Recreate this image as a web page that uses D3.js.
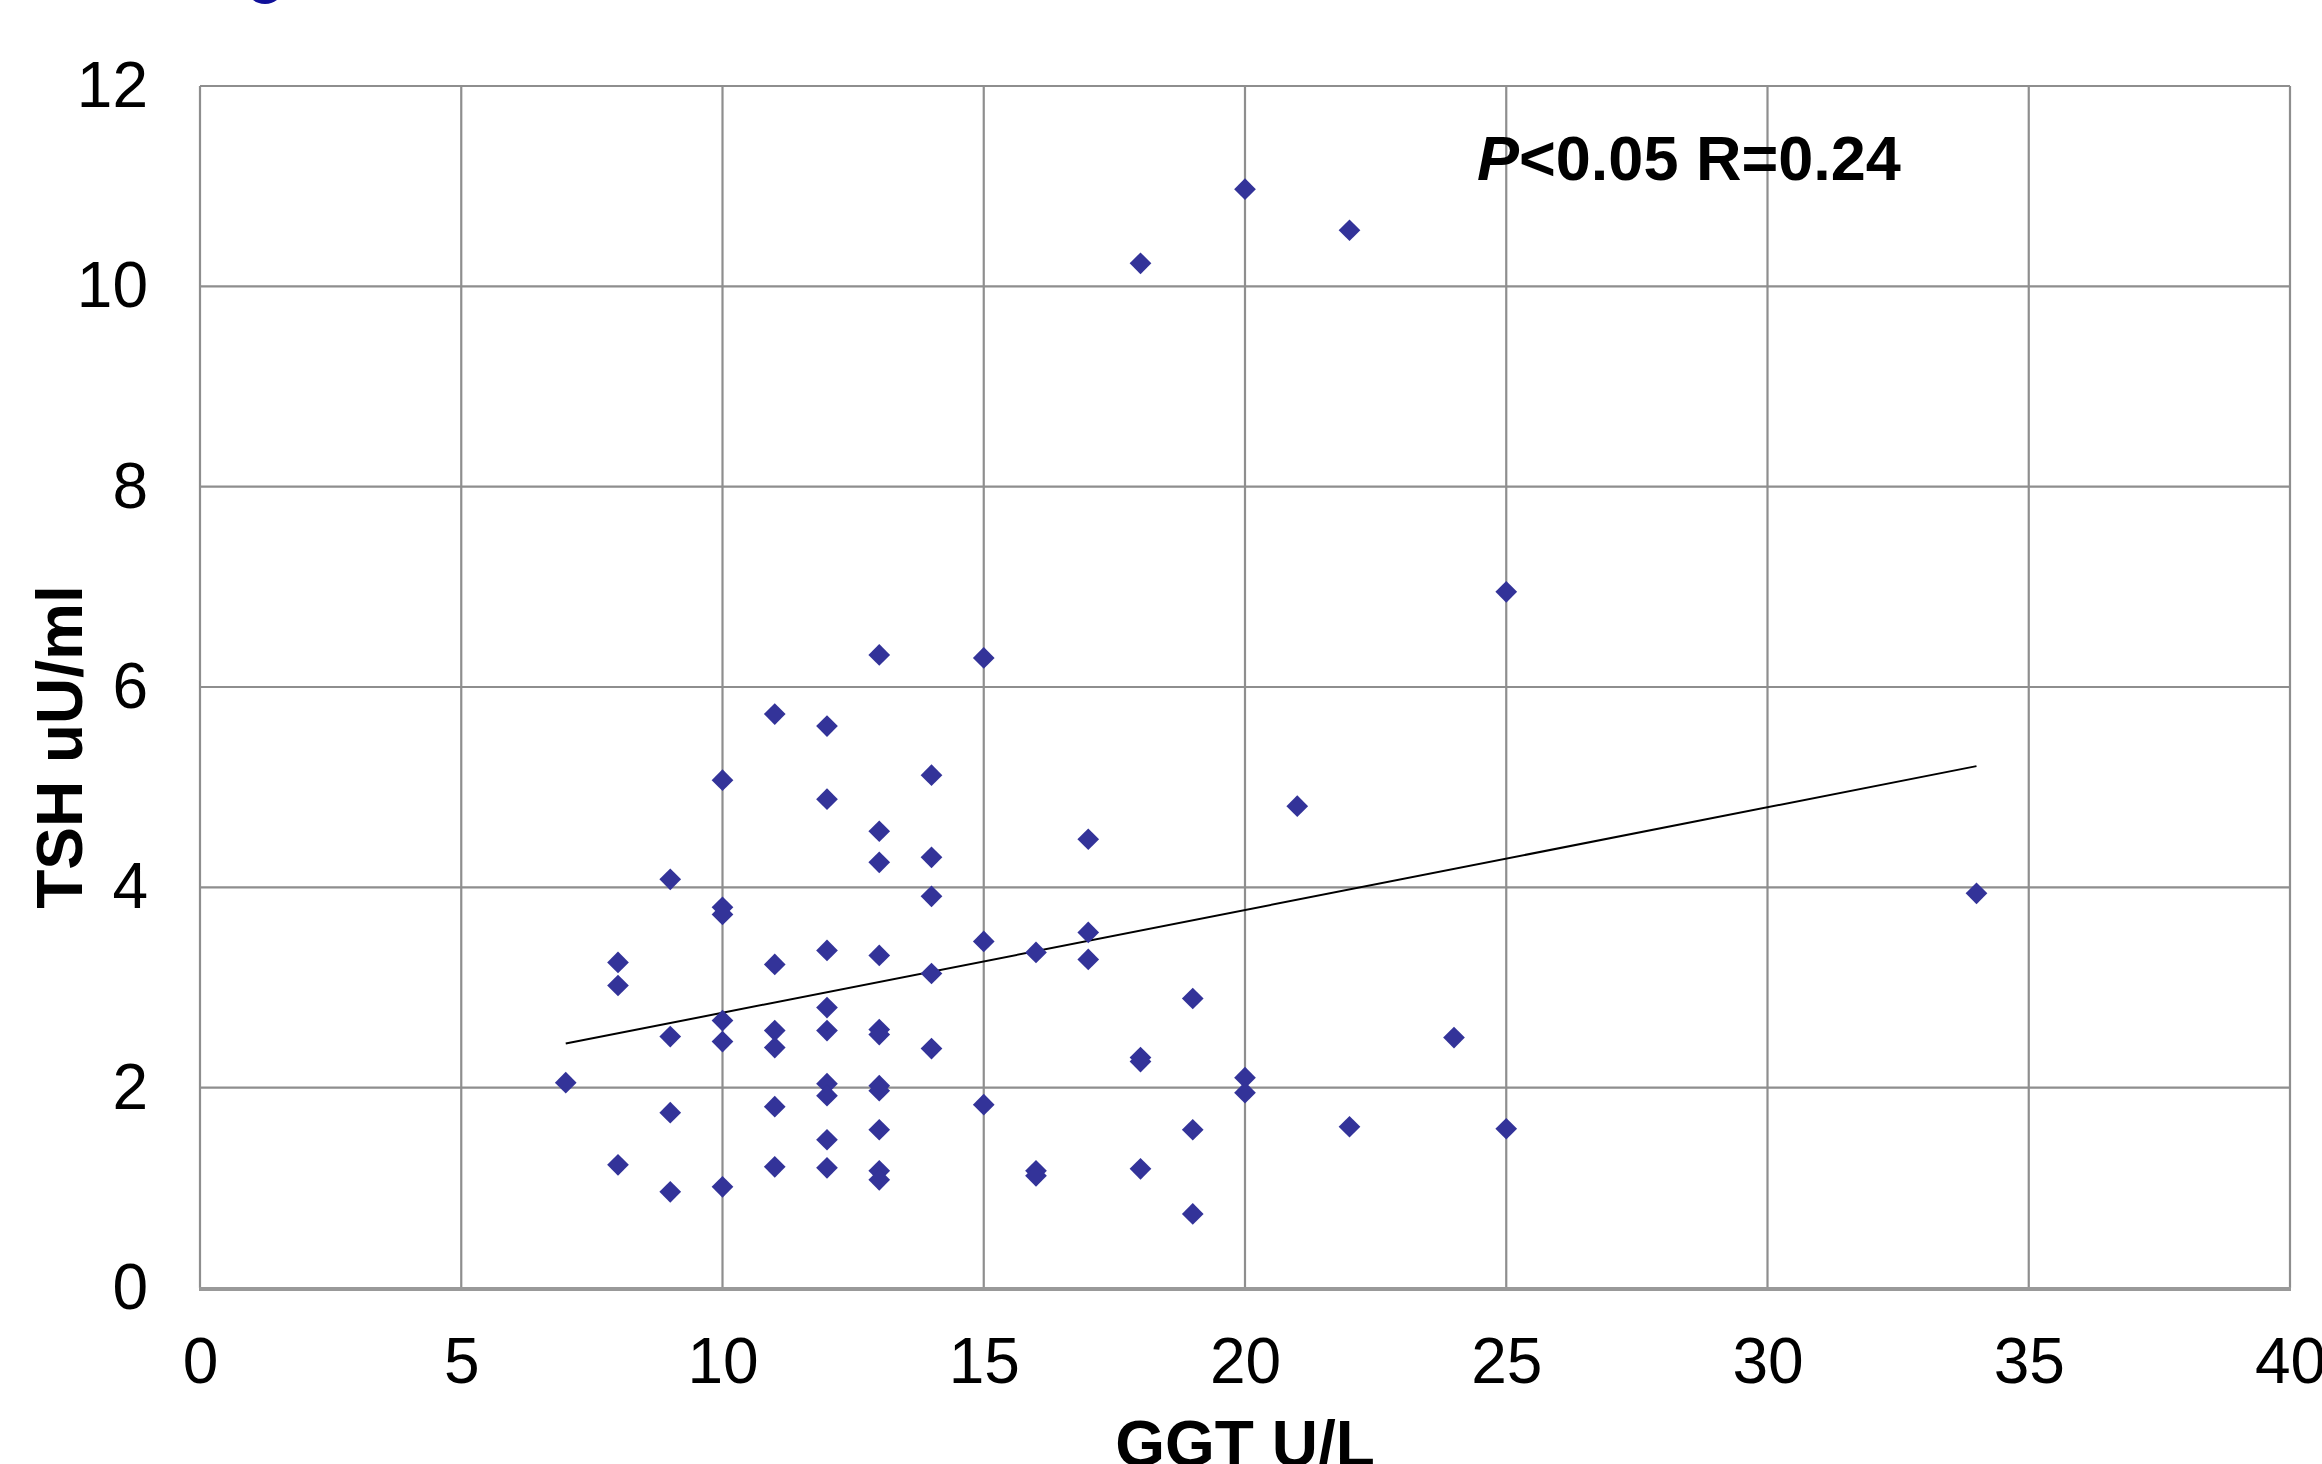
<!DOCTYPE html>
<html lang="en">
<head>
  <meta charset="UTF-8">
  <title>TSH vs GGT</title>
  <script src="https://d3js.org/d3.v7.min.js"></script>
  <style>
    body { margin: 0; background: #fff; }
    text { font-family: "Liberation Sans", Arial, sans-serif; fill: #000; }
  </style>
</head>
<body>
<div class="main"></div>
<script>
  let width = 2322;
  let height = 1464;

  // GGT (x) and TSH (y) per patient
  let ggt = [7,
    8, 8, 8,
    9, 9, 9, 9,
    10, 10, 10, 10, 10, 10,
    11, 11, 11, 11, 11, 11,
    12, 12, 12, 12, 12, 12, 12, 12, 12,
    13, 13, 13, 13, 13, 13, 13, 13, 13, 13, 13,
    14, 14, 14, 14, 14,
    15, 15, 15,
    16, 16, 16,
    17, 17, 17,
    18, 18, 18, 18,
    19, 19, 19,
    20, 20, 20,
    21,
    22, 22,
    24,
    25, 25,
    34];
  let tsh = [2.05,
    3.25, 3.02, 1.23,
    4.08, 2.51, 1.75, 0.96,
    5.07, 3.80, 3.73, 2.67, 2.46, 1.01,
    5.73, 3.23, 2.57, 2.40, 1.81, 1.21,
    5.61, 4.88, 3.37, 2.80, 2.57, 2.04, 1.92, 1.48, 1.20,
    6.32, 4.56, 4.25, 3.32, 2.58, 2.53, 2.02, 1.97, 1.58, 1.17, 1.08,
    5.12, 4.30, 3.91, 3.14, 2.39,
    6.29, 3.46, 1.83,
    3.35, 1.17, 1.12,
    4.48, 3.55, 3.28,
    10.23, 2.30, 2.26, 1.19,
    2.89, 1.58, 0.74,
    10.97, 2.10, 1.95,
    4.81,
    10.56, 1.61,
    2.50,
    6.95, 1.59,
    3.94];

  // trend line ends
  let trendX = [7, 34];
  let trendY = [2.44, 5.21];

  let xTicks = [0, 5, 10, 15, 20, 25, 30, 35, 40];
  let yTicks = [0, 2, 4, 6, 8, 10, 12];

  let points = ggt.map((g, i) => ({ x: g, y: tsh[i] }));
  let trend = trendX.map((t, i) => ({ x: t, y: trendY[i] }));

  let xScale = d3.scaleLinear().domain([0, 40]).range([200, 2290]);
  let yScale = d3.scaleLinear().domain([0, 12]).range([1288, 86]);

  let svg = d3.select(".main")
          .append("svg")
          .attr("width", width)
          .attr("height", height)
          .style("display", "block");

  // cut-off blob at the very top
  svg.append("ellipse")
          .attr("cx", 265).attr("cy", -12)
          .attr("rx", 18).attr("ry", 16)
          .attr("fill", "#10109a");

  // grid
  let grid = svg.append("g");
  grid.selectAll("line.v")
          .data(xTicks)
          .join("line")
          .attr("class", "v")
          .attr("x1", d => xScale(d)).attr("x2", d => xScale(d))
          .attr("y1", yScale(12)).attr("y2", yScale(0))
          .attr("stroke", "#8e8e8e")
          .attr("stroke-width", 2.2);
  grid.selectAll("line.h")
          .data(yTicks)
          .join("line")
          .attr("class", "h")
          .attr("x1", xScale(0)).attr("x2", xScale(40))
          .attr("y1", d => yScale(d)).attr("y2", d => yScale(d))
          .attr("stroke", "#8e8e8e")
          .attr("stroke-width", 2.2);
  grid.append("line")
          .attr("x1", xScale(0) - 1).attr("x2", xScale(40) + 1)
          .attr("y1", yScale(0) + 1).attr("y2", yScale(0) + 1)
          .attr("stroke", "#999")
          .attr("stroke-width", 4);

  // axes (labels only)
  let xAxis = d3.axisBottom(xScale)
          .tickValues(xTicks)
          .tickSize(0)
          .tickPadding(50)
          .tickFormat(d3.format("d"));
  let yAxis = d3.axisLeft(yScale)
          .tickValues(yTicks)
          .tickSize(0)
          .tickPadding(52)
          .tickFormat(d3.format("d"));

  svg.append("g")
          .attr("transform", `translate(0,${yScale(0)})`)
          .call(xAxis)
          .call(g => g.select(".domain").remove())
          .selectAll("text")
          .style("font-size", "64px")
          .style("font-family", "'Liberation Sans', Arial, sans-serif")
          .attr("fill", "#000");

  svg.append("g")
          .attr("transform", `translate(${xScale(0)},0)`)
          .call(yAxis)
          .call(g => g.select(".domain").remove())
          .selectAll("text")
          .style("font-size", "64px")
          .style("font-family", "'Liberation Sans', Arial, sans-serif")
          .attr("fill", "#000");

  // trend line
  let line = d3.line().x(d => xScale(d.x)).y(d => yScale(d.y));
  svg.append("path")
          .datum(trend)
          .attr("d", line)
          .attr("fill", "none")
          .attr("stroke", "#000")
          .attr("stroke-width", 2);

  // points
  let diamond = d3.symbol().type(d3.symbolDiamond2).size(300);
  svg.append("g")
          .selectAll("path")
          .data(points)
          .join("path")
          .attr("d", diamond)
          .attr("transform", d => `translate(${xScale(d.x)},${yScale(d.y)})`)
          .attr("fill", "#333399");

  // annotation
  let note = svg.append("text")
          .attr("x", 1477)
          .attr("y", 180)
          .style("font-size", "63px")
          .style("font-weight", "bold");
  note.append("tspan").style("font-style", "italic").text("P");
  note.append("tspan").text("<0.05 R=0.24");

  // axis titles
  svg.append("text")
          .attr("x", (xScale(0) + xScale(40)) / 2)
          .attr("y", 1466)
          .attr("text-anchor", "middle")
          .style("font-size", "64px")
          .style("font-weight", "bold")
          .text("GGT U/L");

  svg.append("text")
          .attr("transform", "translate(82,747) rotate(-90)")
          .attr("text-anchor", "middle")
          .style("font-size", "64px")
          .style("font-weight", "bold")
          .text("TSH uU/ml");
</script>
</body>
</html>
